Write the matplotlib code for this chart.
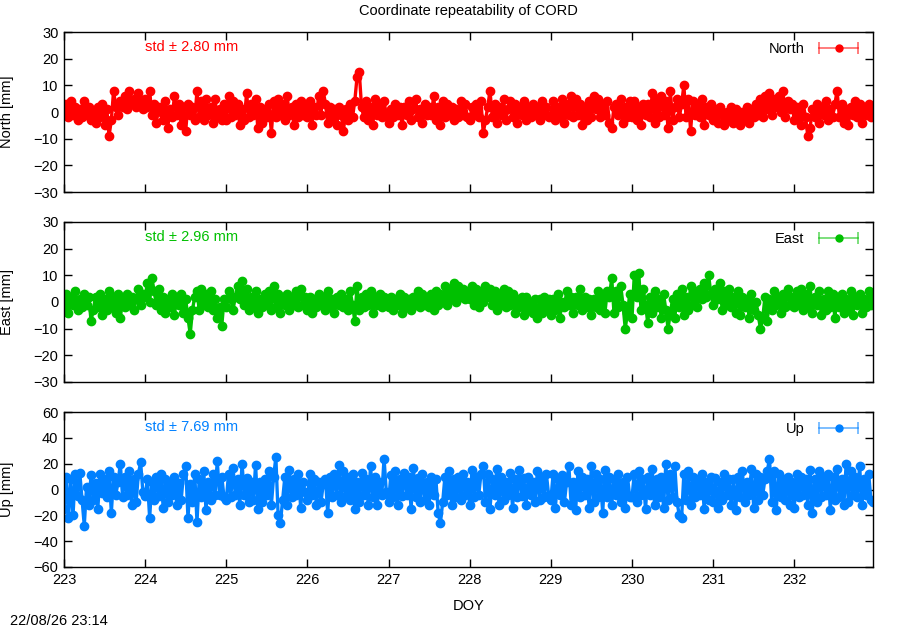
import numpy as np
import matplotlib.pyplot as plt
from matplotlib.lines import Line2D
from matplotlib.legend_handler import HandlerLine2D, HandlerTuple

plt.rcParams['font.family'] = ['Liberation Sans', 'DejaVu Sans']

# Epoch sampling: every 40 minutes from DOY 223
doy_start = 223
muestras_por_dia = 36

# Coordinate residuals [mm], one row per day
north = [
    -1, 3, -2, 4, -1, 2, -3, 1, -2, 4, -1, 2, -3, 0, -4, 2, -2, 3, -5, 1, -9, -3, 8, 2, -1, 4, 2, 6, 1, 8, 3, 5, 2, 7, 4, 1,
    5, 2, 8, -1, 3, -4, 2, 0, -3, 4, -6, 1, -2, 6, -1, 3, -5, 2, -7, 3, -1, 2, -3, 8, -2, 4, -3, 5, -1, 2, -4, 5, -2, 1, -3, 3,
    -3, 6, -2, 4, -1, 3, -5, 1, -3, 7, -2, 3, -1, 5, -6, 2, -4, 1, -2, 3, -8, 4, -2, 5, -1, 3, -3, 6, -1, 2, -5, 3, -2, 4, -1, 2,
    -2, 4, -5, 2, -1, 6, -1, 8, 3, -4, 2, -3, 1, -5, 2, -1, -7, 1, -3, 3, -2, 4, 13, 15, 2, -2, 4, -3, 2, -5, 5, -1, 3, -2, 4, -1,
    -4, 1, -2, 3, -1, 2, -5, 2, -1, 4, -3, 1, 5, -2, 1, -4, 3, -1, 2, -1, 6, -3, 2, -5, 4, -2, 3, -1, 2, -3, 1, -2, 4, -1, 3, -2,
    -3, 2, -1, 3, -2, 4, -8, -3, 2, 8, -2, 3, -4, 2, -1, 5, -3, 1, 4, -2, 3, -4, 2, -1, 4, -3, 2, -2, 3, -1, 2, -3, 4, -1, 2, -2,
    -1, 4, -3, 2, -2, 5, -4, 3, -1, 6, -2, 5, -1, 3, -5, 2, -3, 4, -2, 6, 1, 5, -2, 3, -1, 4, -4, -6, 2, 3, -1, 5, -4, 2, -2, 4,
    -2, 4, -3, 2, -5, 3, -1, 3, -2, 7, -4, 5, -2, 6, -1, 4, -6, 8, -3, 2, 5, -2, 3, 10, -2, 5, -7, 4, -1, 3, -2, 5, -5, 2, -1, 3,
    -3, 1, -4, 2, -1, -5, 0, -3, 2, -4, 1, -2, -5, 0, -3, 2, -4, 1, -2, 3, -1, 5, -2, 6, 1, 7, -1, 5, 2, 6, 0, 8, -2, 4, 1, 3,
    -3, 2, -1, -5, 3, -2, -9, -6, 1, -2, 3, -4, 2, -1, 4, -3, 1, -2, 3, 8, -2, 3, -4, 1, -5, 2, -1, 4, -2, 3, -4, 2, -1, 3, -2, 1,
]
east = [
    -2, 3, -4, 2, -1, 4, -3, 1, -2, 3, -1, 2, -7, -3, 2, -2, 3, -5, 1, -3, 4, -2, 2, -4, 3, -6, 1, -2, 3, -1, 2, -3, 1, 5, -1, 3,
    2, 7, 0, 9, 4, -1, 5, -3, 2, -4, 1, -2, 3, -5, 2, -1, 3, -4, 1, -6, -12, -3, 2, 4, -3, 5, -1, 3, -2, 4, -3, 1, -6, -2, -9, 1,
    -2, 4, 1, -3, 2, 6, 1, 8, -1, 5, -3, 2, -2, 4, -4, 1, -2, 3, -1, 4, -3, 6, -2, 3, -4, 2, -1, 3, -3, 2, -1, 4, -2, 5, -1, 2,
    -3, 2, -4, 1, -2, 3, -1, 2, -3, 4, -2, 1, -4, 2, -1, 3, -2, 1, -3, 4, -1, -7, 6, -3, 2, -2, 3, -1, 4, -4, 2, -1, 3, -2, 2, -1,
    -2, 2, -3, 1, -1, 3, -4, 2, -2, 1, -3, 2, -1, 4, -2, 3, -1, 2, -2, 3, -3, 4, -1, 3, 0, 6, -1, 5, 1, 7, 0, 6, 2, 5, 1, 4,
    1, 6, -1, 5, -2, 4, 0, 6, 2, 5, -1, 4, -3, 3, -1, 5, -2, 4, -1, 3, -4, 1, -2, 2, -5, 2, -3, 0, -4, 1, -6, 1, -4, 2, -3, 1,
    -5, 1, -3, 3, -6, 0, -2, 4, -1, 2, -4, 2, -1, 5, -3, 2, -2, 1, -5, 1, -2, 4, -3, 2, -4, 4, 2, 9, -4, 4, -2, 6, -1, -10, -4, 3,
    -6, 10, 2, 11, -3, 5, -1, -8, 2, -4, 4, -2, 1, -6, 3, -3, -10, -4, 1, -6, 3, -2, 5, -5, 2, -3, 6, -1, 4, -2, 5, 1, 7, 2, 10, 3,
    -1, 5, 1, 7, -3, 4, -1, 5, -2, 2, -4, 4, -5, 2, -2, 1, -6, 3, -3, 0, -5, -10, -6, 2, -7, 1, -3, 4, -1, 2, -4, 3, -2, 5, -1, 2,
    -2, 4, -1, 5, -3, 3, -2, 6, -4, 2, -1, 4, -5, 1, -3, 4, -2, 3, -6, 2, -2, 3, -4, 1, -3, 4, -5, 2, -1, 3, -4, 1, -2, 4, -1, 3,
]
up = [
    -15, 10, -22, 8, -20, 12, -5, 13, -8, -28, 2, -12, 11, -8, 5, -15, 12, -3, 8, -6, 14, -18, 10, -4, 6, 20, -6, 10, -4, 14, -12, 8, -10, 12, 21, -2,
    -5, 8, -22, 6, -8, 10, -5, 12, -14, 8, -10, 6, -4, 10, -12, 5, -8, 12, 18, -22, 4, -10, 12, -25, 8, -6, 14, -16, 6, -8, 12, -4, 22, -4, 10, -6,
    -8, 12, -6, 17, -4, 8, -12, 20, -4, 9, -10, 6, -8, 19, -15, 6, -10, 8, -4, 14, -12, 10, 25, -20, -26, -8, 10, -12, 15, -6, 8, -4, 12, -14, 6, -2,
    -8, 12, -4, 8, -12, 6, -10, 4, 8, -18, 10, -6, 12, -4, 19, -10, 14, -5, 10, -8, 12, -15, 6, -10, 13, -4, 8, -12, 18, -6, 10, -12, 6, -4, 24, -2,
    -10, 11, -6, 14, -12, 8, -5, 13, -4, 10, -15, 17, -6, 9, -10, 12, -8, 6, -12, 10, -4, 8, -18, -26, -10, 10, -4, 14, -12, 8, -6, 10, -8, 12, -4, 6,
    -12, 15, -6, 10, -4, 12, 18, -10, 12, -15, 8, -4, 16, -12, 10, -8, 6, -4, 13, -14, 8, -6, 15, -5, 9, -12, 10, -4, 6, -10, 14, -8, 10, -6, 12, -4,
    -8, 12, -14, 8, -4, 11, -10, 6, 18, -12, 6, -16, 14, -6, 10, -4, 8, -14, 18, -10, 12, -6, 8, -18, 15, -6, 10, -12, 8, -4, 12, -10, 6, -14, 10, -6,
    -6, 12, -10, 14, -4, 8, -15, 10, -4, 16, -12, 8, -6, 10, -14, 20, -8, 12, -6, 18, -10, -20, -22, 12, -8, 14, -12, 10, -6, 8, -4, 12, -15, 6, -8, 10,
    -10, 9, -14, 6, -8, 12, -4, 8, -12, 8, -16, 10, -6, 14, -10, 6, -4, 16, -14, 12, -8, 10, -4, 8, 14, 24, -10, 14, -16, 12, -6, 8, -8, 10, -12, 6,
    -14, 12, -6, 10, -4, 8, -12, 15, -18, 8, -10, 14, -6, 10, -4, 12, -16, 10, -8, 16, -6, 8, -12, 20, -10, 14, -4, 10, -6, 18, -12, 8, -4, 12, -8, -10,
]

componentes = ['North', 'East', 'Up']
series = [north, east, up]
desviaciones = [2.80, 2.96, 7.69]
colores = ['#ff0000', '#00c000', '#0080ff']
limites_y = [(-30, 30), (-30, 30), (-60, 60)]
ticks_y = [np.arange(-30, 31, 10), np.arange(-30, 31, 10), np.arange(-60, 61, 20)]
ticks_x = list(range(223, 233))

doy = doy_start + np.arange(len(north)) / muestras_por_dia

fig = plt.figure(figsize=(9, 6.3), dpi=100)
# posiciones [izq, abajo, ancho, alto] en fracciones de figura
posiciones = [
    [0.0711, 0.6952, 0.8989, 0.2540],
    [0.0711, 0.3937, 0.8989, 0.2540],
    [0.0711, 0.1000, 0.8989, 0.2460],
]

for i in range(3):
    ax = fig.add_axes(posiciones[i])
    ax.plot(doy, series[i], color=colores[i], lw=2.4, marker='o', ms=6,
            mec=colores[i], mfc=colores[i])
    ax.set_xlim(223, 232.97)
    ax.set_ylim(*limites_y[i])
    ax.set_yticks(ticks_y[i])
    ax.set_xticks(ticks_x)
    ax.tick_params(direction='in', top=True, right=True, length=6, width=1,
                   labelsize=10.5, pad=4)
    if i < 2:
        ax.tick_params(labelbottom=False)
    else:
        ax.set_xlabel('DOY', fontsize=10.5, labelpad=9)
    for s in ax.spines.values():
        s.set_linewidth(1.0)
    ax.set_ylabel(componentes[i] + ' [mm]', fontsize=10.5)
    ax.yaxis.set_label_coords(-0.062, 0.5)

    ax.text(0.1, 0.905, 'std \u00b1 %.2f mm' % desviaciones[i], color=colores[i],
            fontsize=10.5, transform=ax.transAxes, va='center', ha='left')

    # muestra de leyenda estilo gnuplot (errorlines)
    barra = Line2D([], [], color=colores[i], lw=1.2, marker='|', ms=9,
                   mew=1.2, alpha=0.6)
    punto = Line2D([], [], color=colores[i], lw=0, marker='o', ms=5)
    ax.legend([(barra, punto)], [componentes[i]], loc='upper right',
              frameon=False, fontsize=10.5, markerfirst=False, handlelength=3.3,
              borderaxespad=0.3, handletextpad=0.7,
              handler_map={barra: HandlerLine2D(numpoints=2),
                           punto: HandlerLine2D(numpoints=1),
                           tuple: HandlerTuple(ndivide=1, pad=0)})

fig.text(0.52, 1 - 11 / 630, 'Coordinate repeatability of CORD',
         ha='center', va='center', fontsize=10.5)
fig.text(0.011, 1 - 621 / 630, '22/08/26 23:14', ha='left', va='center',
         fontsize=10.5)

fig.savefig('out.png', dpi=100)
